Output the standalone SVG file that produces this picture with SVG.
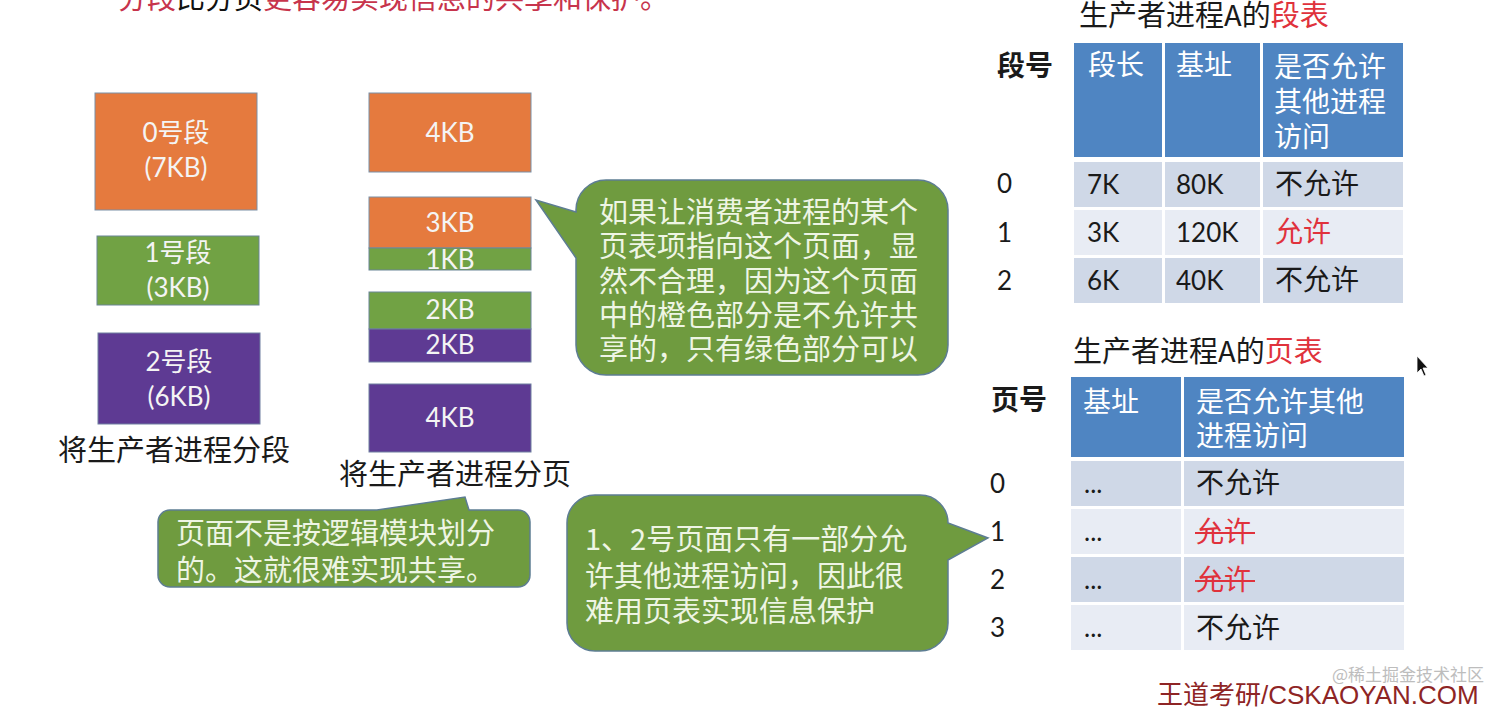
<svg xmlns="http://www.w3.org/2000/svg" width="1512" height="708" viewBox="0 0 1512 708">
<style>
.cjk{font-family:"Noto Sans CJK SC","Noto Sans",sans-serif;}
.lat{font-family:Lato,"Noto Sans CJK SC",sans-serif;}
.box{font-family:Lato,"Noto Sans CJK SC",sans-serif;font-size:26px;fill:#F4F4F4;text-anchor:middle;}
.orange{fill:#E57A3E;stroke:#7A8FA6;stroke-width:1;}
.green{fill:#71A244;stroke:#6A8596;stroke-width:1;}
.purple{fill:#5E3A93;stroke:#6F7FA0;stroke-width:1;}
.call{fill:#6F9B3F;stroke:#5D7D93;stroke-width:1.5;}
.ctext{font-family:"Noto Sans CJK SC",sans-serif;font-size:29px;fill:#EEF5E4;}
.hdr{fill:#4F85C2;}
.rd{fill:#CFD8E7;}
.rl{fill:#E8ECF4;}
.ht{font-family:"Noto Sans CJK SC",sans-serif;font-size:28px;fill:#FFFFFF;}
.ct{font-family:"Noto Sans CJK SC",sans-serif;font-size:28px;fill:#1A1A1A;}
.nt{font-family:Lato,"Noto Sans CJK SC",sans-serif;font-size:26px;fill:#1A1A1A;}
.red{fill:#E0323C;}
.strike{stroke:#E0323C;stroke-width:2;}
</style>
<rect width="1512" height="708" fill="#FFFFFF"/>

<g id="heading">
<text class="cjk" x="118" y="9" font-size="29"><tspan fill="#C7344C">分段</tspan><tspan fill="#111111">比分页</tspan><tspan fill="#C7344C">更容易实现信息的共享和保护。</tspan></text>
</g>

<g id="seg0"><rect class="orange" x="95" y="93" width="162" height="117"/><text class="box" x="176" y="142">0号段</text><text class="box" x="176" y="177">(7KB)</text></g>
<g id="seg1"><rect class="green" x="97" y="236" width="162" height="69"/><text class="box" x="178" y="262">1号段</text><text class="box" x="178" y="297">(3KB)</text></g>
<g id="seg2"><rect class="purple" x="98" y="333" width="162" height="91"/><text class="box" x="179" y="371">2号段</text><text class="box" x="179" y="406">(6KB)</text></g>
<g id="seg-label"><text class="cjk" x="174" y="461" font-size="29" fill="#1A1A1A" text-anchor="middle">将生产者进程分段</text></g>

<g id="page0"><rect class="orange" x="369" y="93" width="162" height="79"/><text class="box" x="450" y="142">4KB</text></g>
<g id="page1"><rect class="orange" x="369" y="197" width="162" height="51"/><rect class="green" x="369" y="248" width="162" height="22"/><text class="box" x="450" y="232">3KB</text><text class="box" x="450" y="269">1KB</text></g>
<g id="page2"><rect class="green" x="369" y="292" width="162" height="37"/><rect class="purple" x="369" y="329" width="162" height="33"/><text class="box" x="450" y="319">2KB</text><text class="box" x="450" y="354">2KB</text></g>
<g id="page3"><rect class="purple" x="369" y="384" width="162" height="68"/><text class="box" x="450" y="427">4KB</text></g>
<g id="page-label"><text class="cjk" x="455" y="485" font-size="29" fill="#1A1A1A" text-anchor="middle">将生产者进程分页</text></g>

<g id="callout1">
<path class="call" d="M606 180 H918 A30 30 0 0 1 948 210 V345 A30 30 0 0 1 918 375 H606 A30 30 0 0 1 576 345 V258 L536 200 L576 212 V210 A30 30 0 0 1 606 180 Z"/>
<text class="ctext" x="599" y="223">如果让消费者进程的某个</text>
<text class="ctext" x="599" y="257">页表项指向这个页面，显</text>
<text class="ctext" x="599" y="292">然不合理，因为这个页面</text>
<text class="ctext" x="599" y="326">中的橙色部分是不允许共</text>
<text class="ctext" x="599" y="360">享的，只有绿色部分可以</text>
</g>

<g id="callout2">
<path class="call" d="M170 510 H377 L465 497 L469 510 H518 A12 12 0 0 1 530 522 V575 A12 12 0 0 1 518 587 H170 A12 12 0 0 1 158 575 V522 A12 12 0 0 1 170 510 Z"/>
<text class="ctext" x="176" y="544">页面不是按逻辑模块划分</text>
<text class="ctext" x="176" y="581">的。这就很难实现共享。</text>
</g>

<g id="callout3">
<path class="call" d="M595 495 H920 A28 28 0 0 1 948 523 L988 538 L948 560 V623 A28 28 0 0 1 920 651 H595 A28 28 0 0 1 567 623 V523 A28 28 0 0 1 595 495 Z"/>
<text class="ctext" x="585" y="550">1、2号页面只有一部分允</text>
<text class="ctext" x="585" y="587">许其他进程访问，因此很</text>
<text class="ctext" x="585" y="622">难用页表实现信息保护</text>
</g>

<g id="segment-table">
<text class="cjk" x="1079" y="26" font-size="29" fill="#1A1A1A">生产者进程A的<tspan class="red">段表</tspan></text>
<text class="cjk" x="997" y="76" font-size="28" font-weight="bold" fill="#1A1A1A">段号</text>
<rect class="hdr" x="1074" y="43" width="88" height="114"/>
<rect class="hdr" x="1165" y="43" width="95" height="114"/>
<rect class="hdr" x="1263" y="43" width="140" height="114"/>
<text class="ht" x="1088" y="75">段长</text>
<text class="ht" x="1176" y="75">基址</text>
<text class="ht" x="1274" y="77">是否允许</text>
<text class="ht" x="1274" y="112">其他进程</text>
<text class="ht" x="1274" y="147">访问</text>
<rect class="rd" x="1074" y="162" width="88" height="45"/><rect class="rd" x="1165" y="162" width="95" height="45"/><rect class="rd" x="1263" y="162" width="140" height="45"/>
<rect class="rl" x="1074" y="210" width="88" height="45"/><rect class="rl" x="1165" y="210" width="95" height="45"/><rect class="rl" x="1263" y="210" width="140" height="45"/>
<rect class="rd" x="1074" y="258" width="88" height="45"/><rect class="rd" x="1165" y="258" width="95" height="45"/><rect class="rd" x="1263" y="258" width="140" height="45"/>
<text class="nt" x="997" y="193">0</text>
<text class="nt" x="997" y="242">1</text>
<text class="nt" x="997" y="290">2</text>
<text class="nt" x="1087" y="194">7K</text><text class="nt" x="1176" y="194">80K</text><text class="ct" x="1275" y="194">不允许</text>
<text class="nt" x="1087" y="242">3K</text><text class="nt" x="1176" y="242">120K</text><text class="ct red" x="1275" y="242">允许</text>
<text class="nt" x="1087" y="290">6K</text><text class="nt" x="1176" y="290">40K</text><text class="ct" x="1275" y="290">不允许</text>
</g>

<g id="page-table">
<text class="cjk" x="1073" y="362" font-size="29" fill="#1A1A1A">生产者进程A的<tspan class="red">页表</tspan></text>
<text class="cjk" x="991" y="410" font-size="28" font-weight="bold" fill="#1A1A1A">页号</text>
<rect class="hdr" x="1071" y="377" width="110" height="80"/>
<rect class="hdr" x="1184" y="377" width="220" height="80"/>
<text class="ht" x="1083" y="412">基址</text>
<text class="ht" x="1196" y="412">是否允许其他</text>
<text class="ht" x="1196" y="446">进程访问</text>
<rect class="rd" x="1071" y="461" width="110" height="45"/><rect class="rd" x="1184" y="461" width="220" height="45"/>
<rect class="rl" x="1071" y="509" width="110" height="45"/><rect class="rl" x="1184" y="509" width="220" height="45"/>
<rect class="rd" x="1071" y="557" width="110" height="45"/><rect class="rd" x="1184" y="557" width="220" height="45"/>
<rect class="rl" x="1071" y="605" width="110" height="45"/><rect class="rl" x="1184" y="605" width="220" height="45"/>
<text class="nt" x="990" y="493">0</text>
<text class="nt" x="990" y="541">1</text>
<text class="nt" x="990" y="589">2</text>
<text class="nt" x="990" y="637">3</text>
<text class="nt" x="1084" y="493">...</text><text class="ct" x="1196" y="493">不允许</text>
<text class="nt" x="1084" y="541">...</text><text class="ct red" x="1196" y="542">允许</text>
<text class="nt" x="1084" y="589">...</text><text class="ct red" x="1196" y="590">允许</text>
<text class="nt" x="1084" y="637">...</text><text class="ct" x="1196" y="638">不允许</text>
<line class="strike" x1="1195" y1="533" x2="1255" y2="533"/>
<line class="strike" x1="1195" y1="581" x2="1255" y2="581"/>
</g>

<g id="footer">
<text x="1332" y="681" font-family="'Noto Sans CJK SC',sans-serif" font-size="17" fill="#BDBDBD">@稀土掘金技术社区</text>
<text x="1157" y="704" font-family="'Liberation Sans','Noto Sans CJK SC',sans-serif" font-size="26" fill="#8E2525">王道考研/CSKAOYAN.COM</text>
</g>

<g id="cursor"><path d="M1417 356 L1417 373 L1421 369 L1424 376 L1426 375 L1423 368 L1428 368 Z" fill="#111111" stroke="#FFFFFF" stroke-width="0.8"/></g>

<g id="connectors"></g>
</svg>
